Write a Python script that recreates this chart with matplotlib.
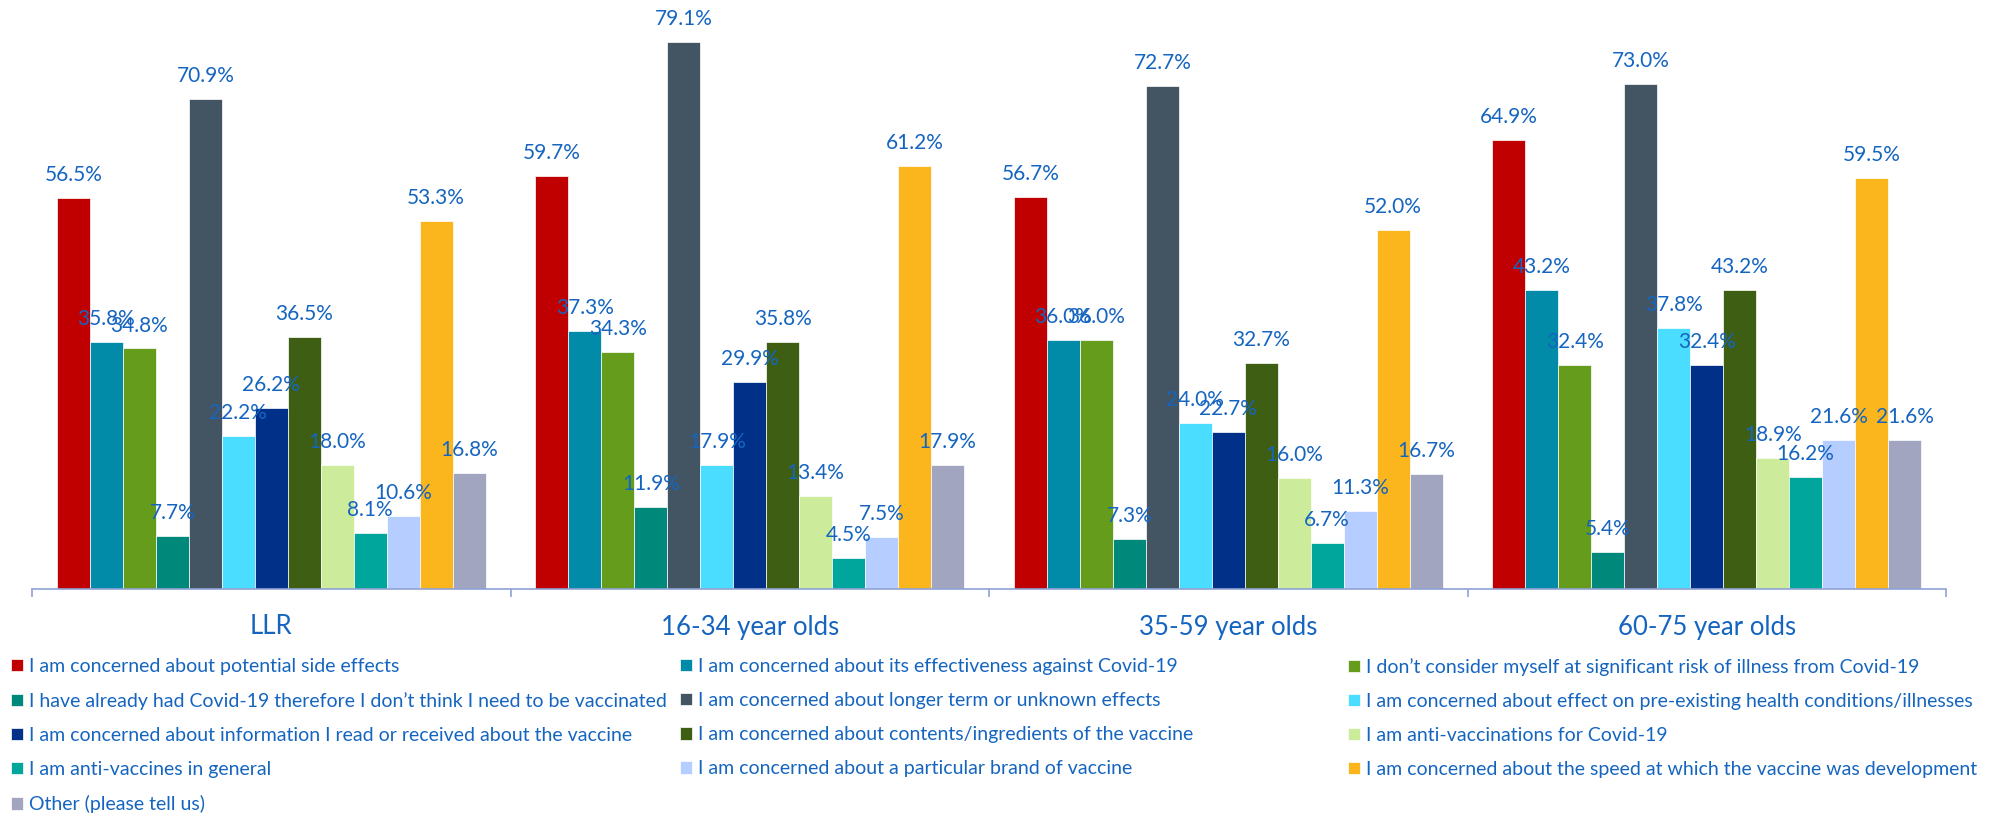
import matplotlib
matplotlib.use("Agg")
import matplotlib.pyplot as plt
import numpy as np

plt.rcParams['font.family'] = ['Lato', 'DejaVu Sans']

# data
groups = ["LLR", "16-34 year olds", "35-59 year olds", "60-75 year olds"]
reasons = [
    "I am concerned about potential side effects",
    "I am concerned about its effectiveness against Covid-19",
    "I don\u2019t consider myself at significant risk of illness from Covid-19",
    "I have already had Covid-19 therefore I don\u2019t think I need to be vaccinated",
    "I am concerned about longer term or unknown effects",
    "I am concerned about effect on pre-existing health conditions/illnesses",
    "I am concerned about information I read or received about the vaccine",
    "I am concerned about contents/ingredients of the vaccine",
    "I am anti-vaccinations for Covid-19",
    "I am anti-vaccines in general",
    "I am concerned about a particular brand of vaccine",
    "I am concerned about the speed at which the vaccine was development",
    "Other (please tell us)",
]
llr = [56.5, 35.8, 34.8, 7.7, 70.9, 22.2, 26.2, 36.5, 18.0, 8.1, 10.6, 53.3, 16.8]
age_16_34 = [59.7, 37.3, 34.3, 11.9, 79.1, 17.9, 29.9, 35.8, 13.4, 4.5, 7.5, 61.2, 17.9]
age_35_59 = [56.7, 36.0, 36.0, 7.3, 72.7, 24.0, 22.7, 32.7, 16.0, 6.7, 11.3, 52.0, 16.7]
age_60_75 = [64.9, 43.2, 32.4, 5.4, 73.0, 37.8, 32.4, 43.2, 18.9, 16.2, 21.6, 59.5, 21.6]

colors = ['#C00000', '#028BA8', '#659C1C', '#00897B', '#435563', '#4ADDFF',
          '#003087', '#3E5F13', '#CDEC9B', '#00A59B', '#B5CDFF', '#FBB61E', '#A2A5C0']

text_blue = '#1565C0'
axis_col = '#8FA2D4'

values = np.array([llr, age_16_34, age_35_59, age_60_75])  # groups x reasons

W, H = 2004, 814
base_y = 589  # baseline, pixels from top
fig = plt.figure(figsize=(W / 100, H / 100), dpi=100)
ax = fig.add_axes([32 / W, (H - base_y) / H, (1946 - 32) / W, base_y / H])

n = len(reasons)
bw = 33 / 479
x = np.arange(len(groups))
handles = []
for i in range(n):
    pos = x - bw * n / 2 + bw * (i + 0.5)
    bars = ax.bar(pos, values[:, i], width=bw, color=colors[i],
                  edgecolor='white', linewidth=0.5, label=reasons[i])
    handles.append(bars)
    for xp, v in zip(pos, values[:, i]):
        ax.annotate(f"{v:.1f}%", (xp, v), xytext=(0, 16.5),
                    textcoords='offset points', ha='center', va='center',
                    fontsize=15, color=text_blue)

ax.set_xlim(-0.5, len(groups) - 0.5)
ax.set_ylim(0, 85.2)
ax.set_yticks([])
for s in ['top', 'left', 'right']:
    ax.spines[s].set_visible(False)
ax.spines['bottom'].set_color(axis_col)
ax.spines['bottom'].set_linewidth(1.2)
ax.set_xticks(np.arange(len(groups) + 1) - 0.5)
ax.set_xticklabels([])
ax.tick_params(axis='x', length=6, width=1.2, color=axis_col, direction='out')

for xi, g in zip(x, groups):
    ax.text(xi, -38 / base_y, g, transform=ax.get_xaxis_transform(),
            ha='center', va='center', fontsize=18.5, color=text_blue)

# legend: three columns, filled row by row
cols_x = [11 / W, 680 / W, 1348 / W]
for c in range(3):
    idx = list(range(c, n, 3))
    fig.legend([handles[i] for i in idx], [reasons[i] for i in idx],
               loc='upper left', bbox_to_anchor=(cols_x[c], 1 - 658 / H),
               frameon=False, fontsize=14, borderpad=0, borderaxespad=0,
               handlelength=0.6, handleheight=0.6, handletextpad=0.35,
               labelspacing=0.88, labelcolor=text_blue)

fig.savefig("out.png", dpi=100)
